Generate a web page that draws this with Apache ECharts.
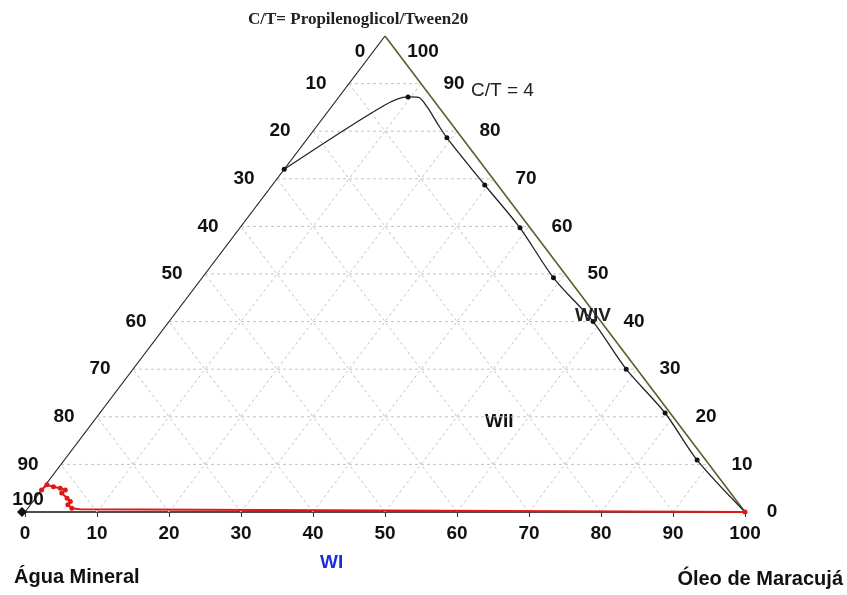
<!DOCTYPE html>
<html>
<head>
<meta charset="utf-8">
<script src="https://cdn.jsdelivr.net/npm/echarts@6/dist/echarts.min.js"></script>
<style>
  html, body { margin: 0; padding: 0; background: #fff; }
  #chart { width: 847px; height: 595px; }
</style>
</head>
<body>
<div id="chart"></div>
<script>
// ternary composition, % (agua = 100 - oleo - ct)
var ticks = [0, 10, 20, 30, 40, 50, 60, 70, 80, 90, 100];

// curva C/T = 4 (preta)
var curveOleo = [0, 7.1, 9.6, 11.1, 13.3, 16.4, 19.3, 29.5, 38.9, 48.8, 58.9, 68.5, 78.5, 87.9, 100];
var curveCT   = [72, 85.3, 87.2, 87.1, 85.1, 81.7, 78.6, 68.7, 59.7, 49.2, 40.0, 30.0, 20.8, 10.9, 0];
var curveMark = [1, 0, 1, 0, 0, 0, 1, 1, 1, 1, 1, 1, 1, 1, 0];

// curva vermelha (canto da agua + base)
var redOleo = [0, 0.2, 1.3, 2.4, 3.3, 3.1, 4.4, 5.2, 5.2, 6.1, 7.3, 100];
var redCT   = [4.6, 5.7, 5.3, 5.0, 4.6, 4.0, 2.9, 2.2, 1.5, 0.8, 0.6, 0];
var redMark = [1, 1, 1, 1, 1, 1, 1, 1, 1, 1, 0, 1];

// oleo/ct -> plano cartesiano
function xy(oleo, ct) {
    return [oleo + ct / 2, ct];
}

var chart = echarts.init(document.getElementById('chart'));
var FONT = '"Liberation Sans", Arial, sans-serif';

/*------ grade tracejada ------*/
var gridSeries = [];
ticks.forEach(function (t) {
    if (t === 0 || t === 100) return;
    var lines = [
        [xy(0, t), xy(100 - t, t)],          // C/T constante
        [xy(t, 0), xy(t, 100 - t)],          // oleo constante
        [xy(100 - t, 0), xy(0, 100 - t)]     // agua constante
    ];
    lines.forEach(function (l) {
        gridSeries.push({
            type: 'line', data: l, symbol: 'none', silent: true, z: 1,
            lineStyle: { color: '#c4c4c4', width: 1, type: [3, 3] }
        });
    });
});

/*------ lados do triangulo ------*/
var edges = [
    { d: [xy(0, 0), xy(0, 100)], c: '#222', w: 1.2 },
    { d: [xy(0, 100), xy(100, 0)], c: '#5e5c2e', w: 1.6 }
];
var edgeSeries = edges.map(function (e) {
    return {
        type: 'line', data: e.d, symbol: 'none', silent: true, z: 2,
        lineStyle: { color: e.c, width: e.w }
    };
});

/*------ rotulos dos lados ------*/
var leftLabels = ticks.map(function (w) {
    var off = [-33, 0];
    if (w === 0) off = [-25, 16];
    if (w === 100) off = [3, -12];
    return {
        value: xy(0, 100 - w),
        label: { show: true, formatter: String(w), offset: off }
    };
});
var rightLabels = ticks.map(function (c) {
    var off = [33, 0];
    if (c === 100) off = [38, 16];
    if (c === 0) off = [27, 0];
    return {
        value: xy(100 - c, c),
        label: { show: true, formatter: String(c), offset: off }
    };
});
var labelStyle = {
    position: 'inside', color: '#111', fontFamily: FONT,
    fontWeight: 'bold', fontSize: 19, textBorderWidth: 0
};

var curveData = curveOleo.map(function (o, i) {
    return { value: xy(o, curveCT[i]), symbol: curveMark[i] ? 'circle' : 'none' };
});
var redData = redOleo.map(function (o, i) {
    return { value: xy(o, redCT[i]), symbol: redMark[i] ? 'circle' : 'none' };
});

option = {
    animation: false,
    backgroundColor: '#fff',
    grid: { left: 25, right: 102, top: 36, bottom: 83 },
    xAxis: {
        type: 'value', min: 0, max: 100, interval: 10,
        axisLine: { lineStyle: { color: '#111', width: 1.5 } },
        axisTick: { show: true, length: 5, lineStyle: { color: '#333' } },
        axisLabel: { color: '#111', fontFamily: FONT, fontWeight: 'bold', fontSize: 19, margin: 12 },
        splitLine: { show: false }
    },
    yAxis: {
        type: 'value', min: 0, max: 100, show: false
    },
    series: gridSeries.concat(edgeSeries).concat([
        {
            type: 'scatter', data: leftLabels, symbolSize: 0, silent: true,
            itemStyle: { color: '#111', opacity: 1 }, label: labelStyle
        },
        {
            type: 'scatter', data: rightLabels, symbolSize: 0, silent: true,
            itemStyle: { color: '#111', opacity: 1 }, label: labelStyle
        },
        {
            // C/T = 4
            type: 'line', data: curveData, smooth: 0.3, symbolSize: 5, z: 5,
            lineStyle: { color: '#222', width: 1.3 },
            itemStyle: { color: '#111' }
        },
        {
            type: 'line', data: redData, symbolSize: 5, z: 6,
            lineStyle: { color: '#e01818', width: 2 },
            itemStyle: { color: '#e01818' }
        },
        {
            type: 'scatter', data: [xy(0, 0)], symbol: 'diamond', symbolSize: 10,
            symbolOffset: [-3, 0], z: 7, itemStyle: { color: '#111', opacity: 1 }
        }
    ]),
    graphic: [
        {
            type: 'text', left: 248, top: 11,
            style: { text: 'C/T= Propilenoglicol/Tween20', fill: '#222',
                font: 'bold 17px "Liberation Serif", "Times New Roman", serif' }
        },
        {
            type: 'text', left: 471, top: 81,
            style: { text: 'C/T = 4', fill: '#222', font: '19px ' + FONT }
        },
        {
            type: 'text', left: 575, top: 306, z: 10,
            style: { text: 'WIV', fill: '#222', font: 'bold 19px ' + FONT }
        },
        {
            type: 'text', left: 485, top: 412,
            style: { text: 'WII', fill: '#111', font: 'bold 19px ' + FONT }
        },
        {
            type: 'text', left: 320, top: 553,
            style: { text: 'WI', fill: '#1f2fd6', font: 'bold 19px ' + FONT }
        },
        {
            type: 'text', left: 14, top: 567,
            style: { text: 'Água Mineral', fill: '#111', font: 'bold 20px ' + FONT }
        },
        {
            type: 'text', right: 4, top: 569,
            style: { text: 'Óleo de Maracujá', fill: '#111', font: 'bold 20px ' + FONT }
        }
    ]
};

chart.setOption(option);
</script>
</body>
</html>
